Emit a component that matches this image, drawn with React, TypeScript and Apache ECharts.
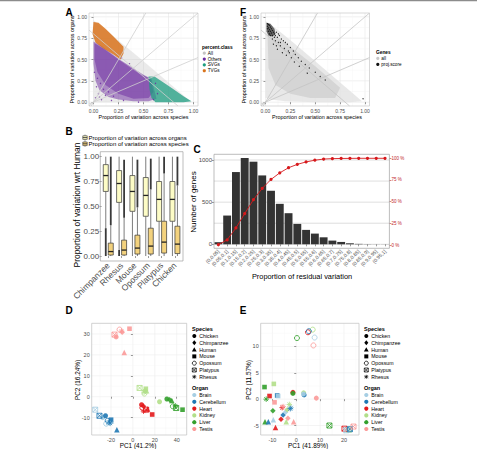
import React, { useEffect, useRef } from "react";
import * as echarts from "echarts";

const FONT = "'Liberation Sans', Arial, Helvetica, sans-serif";

// ---------------- Panel A : variance partition clouds ----------------
const classNames = ["All", "Others", "SVGs", "TVGs"];
const classColors = ["#c4c4c4", "#6b2aa0", "#1e9e80", "#d9731c"];
const cloudAll = [[0.0, 0.96], [0.2, 0.77], [0.45, 0.53], [0.7, 0.28], [0.98, 0.0], [0.0, 0.0]];
const cloudOthersOuter = [[0.0, 0.71], [0.08, 0.66], [0.18, 0.57], [0.26, 0.5], [0.34, 0.44], [0.42, 0.38], [0.5, 0.32], [0.58, 0.27], [0.6, 0.18], [0.63, 0.04], [0.55, 0.01], [0.4, 0.01], [0.25, 0.03], [0.15, 0.06], [0.06, 0.14], [0.02, 0.25], [0.0, 0.45]];
const cloudOthersInner = [[0.01, 0.69], [0.1, 0.63], [0.25, 0.5], [0.45, 0.34], [0.57, 0.27], [0.6, 0.12], [0.55, 0.05], [0.4, 0.04], [0.25, 0.1], [0.12, 0.2], [0.04, 0.35], [0.01, 0.5]];
const othersSparse = [[0.02, 0.05], [0.05, 0.1], [0.03, 0.18], [0.08, 0.03], [0.12, 0.08], [0.1, 0.15], [0.04, 0.28], [0.18, 0.02], [0.07, 0.22], [0.15, 0.12], [0.2, 0.07], [0.01, 0.35], [0.3, 0.02], [0.45, 0.0], [0.6, 0.03], [0.64, 0.1], [0.62, 0.22], [0.28, 0.52], [0.36, 0.45], [0.06, 0.06]];
const cloudSVGs = [[0.55, 0.3], [0.61, 0.3], [0.7, 0.23], [0.8, 0.15], [0.9, 0.07], [0.98, 0.01], [0.9, 0.0], [0.75, 0.0], [0.62, 0.0], [0.58, 0.05], [0.56, 0.15]];
const cloudTVGs = [[0.0, 0.94], [0.05, 0.93], [0.12, 0.86], [0.2, 0.77], [0.3, 0.65], [0.3, 0.57], [0.27, 0.5], [0.2, 0.56], [0.1, 0.63], [0.02, 0.7], [-0.01, 0.8]];
const propTicks = [0, 0.25, 0.5, 0.75, 1];
const propMinor = [0.125, 0.375, 0.625, 0.875];
const refLines = [
  [[-0.0225, -0.045], [0.5225, 1.045]],
  [[-0.045, -0.045], [1.045, 1.045]],
  [[-0.045, -0.0225], [1.045, 0.5225]],
  [[-0.045, 0.845], [0.845, -0.045]],
];

// ---------------- Panel F : proj.score genes ----------------
const geneNames = ["all", "proj.score"];
const geneColors = ["#c8c8c8", "#111111"];
const cloudFOuter = [[0.0, 0.95], [0.1, 0.87], [0.3, 0.68], [0.55, 0.43], [0.8, 0.18], [0.97, 0.01], [0.85, 0.0], [0.5, 0.0], [0.2, 0.01], [0.05, 0.03], [0.0, 0.05]];
const cloudFInner = [[0.02, 0.85], [0.25, 0.65], [0.5, 0.42], [0.75, 0.17], [0.7, 0.05], [0.45, 0.05], [0.25, 0.1], [0.1, 0.2], [0.03, 0.4]];
const projCore = [[0.01, 0.93], [0.05, 0.92], [0.09, 0.86], [0.1, 0.8], [0.07, 0.77], [0.03, 0.78], [0.01, 0.83]];
const projPoints = [
  [0.02, 0.92], [0.03, 0.91], [0.04, 0.9], [0.02, 0.89], [0.05, 0.88], [0.03, 0.87], [0.06, 0.86], [0.04, 0.85],
  [0.02, 0.86], [0.07, 0.84], [0.05, 0.83], [0.03, 0.83], [0.08, 0.82], [0.06, 0.81], [0.04, 0.8], [0.09, 0.8],
  [0.07, 0.78], [0.05, 0.78], [0.1, 0.78], [0.11, 0.82], [0.12, 0.76], [0.14, 0.78], [0.1, 0.72], [0.16, 0.74],
  [0.13, 0.7], [0.18, 0.72], [0.08, 0.68], [0.2, 0.7], [0.15, 0.66], [0.22, 0.68], [0.12, 0.62], [0.19, 0.63],
  [0.25, 0.64], [0.17, 0.58], [0.23, 0.6], [0.28, 0.6], [0.21, 0.55], [0.3, 0.56], [0.26, 0.52], [0.33, 0.52],
  [0.29, 0.47], [0.36, 0.48], [0.4, 0.44], [0.34, 0.42], [0.44, 0.4], [0.5, 0.35], [0.42, 0.34], [0.55, 0.3],
  [0.6, 0.26], [0.98, 0.04], [0.07, 0.74], [0.11, 0.66], [0.13, 0.8], [0.09, 0.76], [0.15, 0.7], [0.24, 0.58],
];

// ---------------- Panel B : boxplots ----------------
const speciesB = ["Chimpanzee", "Rhesus", "Mouse", "Opossum", "Platypus", "Chicken"];
const boxNames = ["Proportion of variation across organs", "Proportion of variation across species"];
const boxColors = ["#fdfcc6", "#f3d27e"];
// [lowWhisker, q1, median, q3, highWhisker]
const organStats = [
  [0.28, 0.65, 0.81, 0.92, 1.0],
  [0.06, 0.54, 0.73, 0.86, 1.0],
  [0.0, 0.45, 0.65, 0.81, 1.0],
  [0.0, 0.4, 0.61, 0.79, 1.0],
  [0.0, 0.35, 0.57, 0.75, 1.0],
  [0.0, 0.35, 0.57, 0.75, 1.0],
];
const organOutliers = [[0.0, 0.28], [0.0, 0.06], [0, 0], [0, 0], [0, 0], [0, 0]];
const speciesStats = [
  [0.0, 0.01, 0.045, 0.13, 0.31],
  [0.0, 0.01, 0.06, 0.16, 0.385],
  [0.0, 0.02, 0.08, 0.21, 0.49],
  [0.0, 0.02, 0.1, 0.28, 0.67],
  [0.0, 0.03, 0.14, 0.35, 0.83],
  [0.0, 0.025, 0.12, 0.3, 0.71],
];
const speciesOutliers = [[0.31, 1.0], [0.385, 0.97], [0.49, 0.97], [0.67, 0.98], [0.83, 1.0], [0.71, 1.0]];

// ---------------- Panel C : residual variation histogram ----------------
const binLabels = ["(0,0.05]", "(0.05,0.1]", "(0.1,0.15]", "(0.15,0.2]", "(0.2,0.25]", "(0.25,0.3]", "(0.3,0.35]", "(0.35,0.4]", "(0.4,0.45]", "(0.45,0.5]", "(0.5,0.55]", "(0.55,0.6]", "(0.6,0.65]", "(0.65,0.7]", "(0.7,0.75]", "(0.75,0.8]", "(0.8,0.85]", "(0.85,0.9]", "(0.9,0.95]", "(0.95,1]"];
const geneCounts = [25, 341, 857, 1024, 980, 817, 635, 480, 369, 242, 171, 127, 83, 44, 28, 12, 5, 2, 1, 1];
const cumPercent = [0.4, 5.9, 19.7, 36.2, 52.3, 65.3, 75.6, 83.2, 89.1, 93.0, 95.8, 97.8, 99.1, 99.6, 99.8, 99.9, 100, 100, 100, 100];
const countTicks = [0, 500, 1000];
const countGrid = [0, 250, 500, 750, 1000];
const pctTicks = [0, 25, 50, 75, 100];

// ---------------- Panels D & E : PCA ----------------
const organs = ["Brain", "Cerebellum", "Heart", "Kidney", "Liver", "Testis"];
const organColors = ["#a6cee3", "#1f78b4", "#e31a1c", "#b2df8a", "#33a02c", "#fb9a99"];
const speciesPCA = ["Chicken", "Chimpanzee", "Human", "Mouse", "Opossum", "Platypus", "Rhesus"];
// [organIndex, speciesIndex, PC1, PC2]
const pcaD = [
  [5, 0, -15.3, 28.6], [5, 1, -9.8, 30.8], [5, 2, -7.9, 21.2], [5, 3, -3.1, 32.5], [5, 4, -12.2, 32.1], [5, 5, -16.8, 29.7], [5, 6, -10.4, 31.4],
  [3, 0, 24.3, -2.4], [3, 1, 11.0, 3.0], [3, 2, 12.5, 2.8], [3, 3, 11.8, 3.8], [3, 4, 10.5, 1.5], [3, 5, 6.1, 4.2], [3, 6, 10.2, 2.2],
  [4, 0, 31.0, -1.1], [4, 1, 33.5, -1.5], [4, 2, 35.5, -1.8], [4, 3, 45.3, -6.2], [4, 4, 36.5, -4.6], [4, 5, 39.5, -5.4], [4, 6, 38.8, -4.4],
  [2, 0, 7.9, -3.8], [2, 1, 9.7, -4.6], [2, 2, 13.4, -5.9], [2, 3, 17.6, -8.5], [2, 4, 8.6, -5.3], [2, 5, 12.1, -6.2], [2, 6, 9.7, -6.9],
  [0, 0, -27.5, -10.0], [0, 1, -21.0, -12.2], [0, 2, -19.5, -11.5], [0, 3, -22.5, -12.5], [0, 4, -24.4, -12.9], [0, 5, -34.4, -6.2], [0, 6, -20.5, -12.8],
  [1, 0, -25.0, -9.1], [1, 1, -21.4, -11.8], [1, 2, -14.6, -15.8], [1, 3, -19.9, -11.0], [1, 4, -23.0, -11.5], [1, 5, -30.5, -9.1], [1, 6, -21.0, -12.5],
];
const pcaE = [
  [2, 4, 4.9, 12.7], [3, 4, 6.9, 13.2], [0, 4, 7.7, 11.7], [5, 4, 7.2, 10.2], [4, 4, 0.3, 11.6], [1, 4, 5.3, 12.9],
  [5, 0, 8.4, 0.2], [2, 0, -1.4, 1.3], [4, 0, -1.4, 1.1], [3, 0, 3.1, 1.2], [1, 0, 3.3, 0.8], [0, 0, 3.0, 1.0],
  [4, 3, -13.3, 2.3], [3, 3, -9.4, 2.9], [2, 3, -11.2, 0.6], [1, 3, -8.0, 0.7], [0, 3, -7.6, 0.6], [5, 3, -9.1, -0.6],
  [4, 2, -13.1, -4.3], [1, 2, -11.7, -4.3], [0, 2, -9.6, -3.9], [2, 2, -8.7, -5.4], [3, 2, -4.2, -4.3], [5, 2, -1.1, -4.3],
  [4, 1, -9.8, -2.2], [2, 1, -6.4, -3.8], [1, 1, -5.5, -3.0], [0, 1, -4.5, -2.5], [3, 1, -3.8, -2.0], [5, 1, -3.5, -3.6],
  [4, 5, 13.9, -5.0], [3, 5, 22.0, -5.8], [2, 5, 20.2, -5.6], [0, 5, 21.0, -5.9], [1, 5, 22.5, -5.7], [5, 5, 24.0, -5.2],
  [4, 6, -12.6, 0.0], [0, 6, -2.1, -1.6], [3, 6, -2.9, -1.0], [2, 6, -5.9, -1.6], [1, 6, -2.5, -1.8], [5, 6, -5.5, -1.4],
];
const dTicksX = [-20, 0, 20, 40];
const dTicksY = [-10, 0, 10, 20, 30];
const eTicksX = [-10, 0, 10, 20];
const eTicksY = [-5, 0, 5, 10];

// ---------------- layout ----------------
const G = {
  A: { left: 89, top: 13, width: 109, height: 93 },
  F: { left: 261, top: 13, width: 108.5, height: 93 },
  B: { left: 101.6, top: 151.7, width: 80, height: 109.3 },
  C: { left: 214, top: 154.3, width: 175.4, height: 94 },
  D: { left: 91.7, top: 323.3, width: 95, height: 111.7 },
  E: { left: 260.7, top: 323.3, width: 98.3, height: 111.7 },
};

const speciesKinds = ["circle", "diamond", "triangle", "rect", "emptyCircle", "platypus", "asterisk"];
const PLATYPUS = "path://M0,0L10,0L10,10L0,10Z M0,0L10,10 M10,0L0,10";
const ASTERISK = "path://M5,0L5,10 M0,5L10,5 M1.5,1.5L8.5,8.5 M8.5,1.5L1.5,8.5";
const kindSymbol: Record<string, string> = { circle: "circle", diamond: "diamond", triangle: "triangle", rect: "rect", emptyCircle: "circle", platypus: PLATYPUS, asterisk: ASTERISK };
const kindSize: Record<string, number> = { circle: 5, diamond: 5.5, triangle: 5.5, rect: 4.6, emptyCircle: 5, platypus: 5, asterisk: 5.5 };
const hollow = (k: string) => k === "emptyCircle" || k === "platypus" || k === "asterisk";

function txt(text: string, x: number, y: number, size: number, o: any = {}) {
  return {
    type: "text", x, y, rotation: o.rot || 0, silent: true, z: 100,
    style: {
      text, fontSize: size, fontFamily: FONT, fill: o.color || "#000", fontWeight: o.bold ? "bold" : "normal",
      align: o.align || "center", verticalAlign: o.va || "middle", textAlign: o.align || "center", textVerticalAlign: o.va || "middle",
    },
  };
}

function mark(kind: string, x: number, y: number, color: string, s = 2.2): any {
  switch (kind) {
    case "circle": return { type: "circle", shape: { cx: x, cy: y, r: s }, style: { fill: color } };
    case "emptyCircle": return { type: "circle", shape: { cx: x, cy: y, r: s }, style: { fill: "none", stroke: color, lineWidth: 0.8 } };
    case "triangle": return { type: "polygon", shape: { points: [[x, y - s * 1.2], [x + s * 1.2, y + s * 0.9], [x - s * 1.2, y + s * 0.9]] }, style: { fill: color } };
    case "rect": return { type: "rect", shape: { x: x - s, y: y - s, width: 2 * s, height: 2 * s }, style: { fill: color } };
    case "diamond": return { type: "polygon", shape: { points: [[x, y - s * 1.25], [x + s, y], [x, y + s * 1.25], [x - s, y]] }, style: { fill: color } };
    case "platypus": return {
      type: "group", children: [
        { type: "rect", shape: { x: x - s, y: y - s, width: 2 * s, height: 2 * s }, style: { fill: "none", stroke: color, lineWidth: 0.7 } },
        { type: "line", shape: { x1: x - s, y1: y - s, x2: x + s, y2: y + s }, style: { stroke: color, lineWidth: 0.7 } },
        { type: "line", shape: { x1: x + s, y1: y - s, x2: x - s, y2: y + s }, style: { stroke: color, lineWidth: 0.7 } },
      ],
    };
    case "asterisk": {
      const d = s * 0.75;
      return {
        type: "group", children: [
          { type: "line", shape: { x1: x, y1: y - s, x2: x, y2: y + s }, style: { stroke: color, lineWidth: 0.7 } },
          { type: "line", shape: { x1: x - s, y1: y, x2: x + s, y2: y }, style: { stroke: color, lineWidth: 0.7 } },
          { type: "line", shape: { x1: x - d, y1: y - d, x2: x + d, y2: y + d }, style: { stroke: color, lineWidth: 0.7 } },
          { type: "line", shape: { x1: x + d, y1: y - d, x2: x - d, y2: y + d }, style: { stroke: color, lineWidth: 0.7 } },
        ],
      };
    }
  }
  return { type: "group", children: [] };
}

function frame(r: any, color = "#b0b0b0") {
  return { type: "rect", silent: true, z: 50, shape: { x: r.left, y: r.top, width: r.width, height: r.height }, style: { fill: "none", stroke: color, lineWidth: 0.7 } };
}

function valAxis(gi: number, min: number, max: number, ticks: number[], size: number, fmt: (v: number) => string, extra: any = {}) {
  return {
    type: "value", gridIndex: gi, min, max, splitLine: { show: false },
    axisLine: { show: false },
    axisTick: { show: true, customValues: ticks, length: 2, lineStyle: { color: extra.tickColor || "#555", width: 0.6 } },
    axisLabel: { customValues: ticks, fontSize: size, color: extra.labelColor || "#4d4d4d", margin: extra.margin ?? 2, fontFamily: FONT, formatter: fmt },
    ...(extra.position ? { position: extra.position } : {}),
  };
}

function polygonSeries(xi: number, yi: number, pts: number[][], fill: string, opacity: number, z = 1) {
  return {
    type: "custom", xAxisIndex: xi, yAxisIndex: yi, data: [[0, 0]], silent: true, z, clip: true,
    renderItem: (_p: any, api: any) => ({ type: "polygon", shape: { points: pts.map((p) => api.coord(p)) }, style: { fill, opacity } }),
  };
}

function gridSeries(xi: number, yi: number, xs: number[], ys: number[], color: string, width: number) {
  const data = [...xs.map((v) => [v, 0, 0]), ...ys.map((v) => [0, v, 1])];
  return {
    type: "custom", xAxisIndex: xi, yAxisIndex: yi, data, silent: true, z: 0,
    renderItem: (params: any, api: any) => {
      const cs = params.coordSys;
      if (api.value(2) === 0) {
        const x = api.coord([api.value(0), 0])[0];
        return { type: "line", shape: { x1: x, y1: cs.y, x2: x, y2: cs.y + cs.height }, style: { stroke: color, lineWidth: width } };
      }
      const y = api.coord([0, api.value(1)])[1];
      return { type: "line", shape: { x1: cs.x, y1: y, x2: cs.x + cs.width, y2: y }, style: { stroke: color, lineWidth: width } };
    },
  };
}

function boxSeries(stats: number[][], outliers: number[][], fill: string, offset: number) {
  const data = stats.map((s, i) => [i, ...s, ...outliers[i]]);
  return {
    type: "custom", xAxisIndex: 2, yAxisIndex: 2, data, silent: true, z: 5,
    encode: { x: 0, y: [1, 2, 3, 4, 5] },
    renderItem: (_p: any, api: any) => {
      const cat = api.value(0);
      const y = (v: number) => api.coord([cat, v])[1];
      const cx = api.coord([cat, 0])[0] + offset;
      const [lo, q1, med, q3, hi, oLo, oHi] = [1, 2, 3, 4, 5, 6, 7].map((k) => api.value(k));
      const hw = 2.5;
      const children: any[] = [
        { type: "line", shape: { x1: cx, y1: y(q3), x2: cx, y2: y(hi) }, style: { stroke: "#444", lineWidth: 0.7 } },
        { type: "line", shape: { x1: cx, y1: y(q1), x2: cx, y2: y(lo) }, style: { stroke: "#444", lineWidth: 0.7 } },
      ];
      if (oHi > oLo) children.push({ type: "line", shape: { x1: cx, y1: y(oLo), x2: cx, y2: y(oHi) }, style: { stroke: "#3a3a3a", lineWidth: 1.8 } });
      children.push({ type: "rect", shape: { x: cx - hw, y: y(q3), width: 2 * hw, height: y(q1) - y(q3) }, style: { fill, stroke: "#333", lineWidth: 0.7 } });
      children.push({ type: "line", shape: { x1: cx - hw, y1: y(med), x2: cx + hw, y2: y(med) }, style: { stroke: "#222", lineWidth: 1.3 } });
      return { type: "group", children };
    },
  };
}

function pcaSeries(rows: number[][], xi: number, yi: number) {
  return speciesPCA.map((name, s) => {
    const k = speciesKinds[s];
    return {
      type: "scatter", name, xAxisIndex: xi, yAxisIndex: yi, symbol: kindSymbol[k], symbolSize: kindSize[k], z: 6, silent: true,
      data: rows.filter((r) => r[1] === s).map((r) => ({
        value: [r[2], r[3]],
        itemStyle: hollow(k)
          ? { color: "rgba(0,0,0,0)", borderColor: organColors[r[0]], borderWidth: 0.9, opacity: 0.95 }
          : { color: organColors[r[0]], opacity: 0.9 },
      })),
    };
  });
}

function pcaLegend(x0: number) {
  const els: any[] = [txt("Species", x0, 329, 5.5, { bold: true, align: "left" })];
  speciesPCA.forEach((n, i) => {
    const y = 336 + i * 6.8;
    els.push(mark(speciesKinds[i], x0 + 2.3, y, "#000", 2));
    els.push(txt(n, x0 + 7.3, y, 5.2, { align: "left" }));
  });
  els.push(txt("Organ", x0, 388.3, 5.5, { bold: true, align: "left" }));
  organs.forEach((n, i) => {
    const y = 395 + i * 6.8;
    els.push(mark("circle", x0 + 2.3, y, organColors[i], 2.1));
    els.push(txt(n, x0 + 7.3, y, 5.2, { align: "left" }));
  });
  return els;
}

function boxLegendIcon(x: number, y: number, fill: string) {
  return {
    type: "group", children: [
      { type: "line", shape: { x1: x, y1: y - 3, x2: x, y2: y + 3 }, style: { stroke: "#444", lineWidth: 0.6 } },
      { type: "rect", shape: { x: x - 2.2, y: y - 1.8, width: 4.4, height: 3.6 }, style: { fill, stroke: "#333", lineWidth: 0.6 } },
      { type: "line", shape: { x1: x - 2.2, y1: y, x2: x + 2.2, y2: y }, style: { stroke: "#222", lineWidth: 0.8 } },
    ],
  };
}

function buildOption(): any {
  const f2 = (v: number) => v.toFixed(2);
  const fi = (v: number) => String(v);
  const propAxis = (gi: number) => valAxis(gi, -0.045, 1.045, propTicks, 5, f2);

  const xAxis = [
    propAxis(0),
    propAxis(1),
    {
      type: "category", gridIndex: 2, data: speciesB, boundaryGap: true,
      axisLine: { show: false },
      axisTick: { show: true, alignWithLabel: true, length: 2, lineStyle: { color: "#555", width: 0.6 } },
      axisLabel: { rotate: 45, interval: 0, fontSize: 8.5, color: "#4d4d4d", margin: 3, fontFamily: FONT },
    },
    {
      type: "category", gridIndex: 3, data: binLabels, boundaryGap: true,
      axisLine: { show: false },
      axisTick: { show: true, alignWithLabel: true, length: 2, lineStyle: { color: "#555", width: 0.6 } },
      axisLabel: { rotate: 45, interval: 0, fontSize: 5, color: "#4d4d4d", margin: 2, fontFamily: FONT },
    },
    valAxis(4, -37.6, 49.1, dTicksX, 5.5, fi),
    valAxis(5, -14.9, 26.3, eTicksX, 5.5, fi),
  ];
  const yAxis = [
    propAxis(0),
    propAxis(1),
    valAxis(2, -0.05, 1.05, propTicks, 8, f2, { margin: 2.5 }),
    valAxis(3, -47.4, 1067.6, countTicks, 6, fi),
    valAxis(4, -18.3, 35.1, dTicksY, 5.5, fi),
    valAxis(5, -6.8, 14.4, eTicksY, 5.5, fi),
    valAxis(3, -3.8, 104.6, pctTicks, 4.5, (v: number) => `${v} %`, { position: "right", labelColor: "#c0282d", tickColor: "#c0282d" }),
  ];

  const series: any[] = [
    // ---- A
    gridSeries(0, 0, propTicks, propTicks, "#e6e6e6", 0.6),
    gridSeries(0, 0, propMinor, propMinor, "#f3f3f3", 0.4),
    polygonSeries(0, 0, cloudAll, classColors[0], 0.35, 1),
    polygonSeries(0, 0, cloudOthersOuter, classColors[1], 0.5, 2),
    polygonSeries(0, 0, cloudOthersInner, classColors[1], 0.5, 2),
    { type: "scatter", xAxisIndex: 0, yAxisIndex: 0, data: othersSparse, symbolSize: 1.4, silent: true, z: 2, itemStyle: { color: classColors[1], opacity: 0.8 } },
    polygonSeries(0, 0, cloudSVGs, classColors[2], 0.75, 2),
    polygonSeries(0, 0, cloudTVGs, classColors[3], 0.85, 2),
    ...refLines.map((l) => ({ type: "line", xAxisIndex: 0, yAxisIndex: 0, data: l, symbol: "none", silent: true, z: 3, lineStyle: { color: "#cfcfcf", width: 0.8 } })),
    // ---- F
    gridSeries(1, 1, propTicks, propTicks, "#e6e6e6", 0.6),
    gridSeries(1, 1, propMinor, propMinor, "#f3f3f3", 0.4),
    polygonSeries(1, 1, cloudFOuter, "#e2e2e2", 0.8, 1),
    polygonSeries(1, 1, cloudFInner, "#cdcdcd", 0.7, 1),
    ...refLines.map((l) => ({ type: "line", xAxisIndex: 1, yAxisIndex: 1, data: l, symbol: "none", silent: true, z: 3, lineStyle: { color: "#c4c4c4", width: 0.8 } })),
    polygonSeries(1, 1, projCore, geneColors[1], 0.6, 4),
    { type: "scatter", xAxisIndex: 1, yAxisIndex: 1, data: projPoints, symbolSize: 1.3, silent: true, z: 4, itemStyle: { color: geneColors[1], opacity: 0.85 } },
    // ---- B
    boxSeries(organStats, organOutliers, boxColors[0], -2.5),
    boxSeries(speciesStats, speciesOutliers, boxColors[1], 2.5),
    // ---- C
    gridSeries(3, 3, [], countGrid, "#d0d0d0", 0.7),
    { type: "bar", xAxisIndex: 3, yAxisIndex: 3, data: geneCounts, barCategoryGap: "10%", silent: true, z: 3, itemStyle: { color: "#333333" } },
    { type: "line", xAxisIndex: 3, yAxisIndex: 6, data: cumPercent, symbol: "circle", symbolSize: 3.2, silent: true, z: 4, lineStyle: { color: "#d7191c", width: 0.9 }, itemStyle: { color: "#d7191c" } },
    // ---- D
    gridSeries(4, 4, dTicksX, dTicksY, "#ececec", 0.6),
    gridSeries(4, 4, [-30, -10, 10, 30], [-15, -5, 5, 15, 25, 35], "#f5f5f5", 0.4),
    ...pcaSeries(pcaD, 4, 4),
    // ---- E
    gridSeries(5, 5, eTicksX, eTicksY, "#ececec", 0.6),
    gridSeries(5, 5, [-15, -5, 5, 15, 25], [-2.5, 2.5, 7.5, 12.5], "#f5f5f5", 0.4),
    ...pcaSeries(pcaE, 5, 5),
  ];

  const graphic: any[] = [
    { type: "rect", shape: { x: 0, y: 0, width: 477, height: 1.3 }, style: { fill: "#8c8c8c" }, silent: true },
    frame(G.A, "#c8c8c8"), frame(G.F, "#c8c8c8"),
    frame({ left: 100.3, top: 151.7, width: 82.7, height: 109.3 }, "#a0a0a0"),
    frame(G.C, "#a0a0a0"), frame(G.D, "#c0c0c0"), frame(G.E, "#c0c0c0"),
    txt("A", 69, 12, 10, { bold: true }), txt("F", 243, 12, 10, { bold: true }),
    txt("B", 69, 131, 10, { bold: true }), txt("C", 197, 149.3, 10, { bold: true }),
    txt("D", 69, 310, 10, { bold: true }), txt("E", 243, 310, 10, { bold: true }),
    txt("Proportion of variation across species", 143.5, 117.3, 5.4),
    txt("Proportion of variation across organs", 72, 59.5, 5.4, { rot: Math.PI / 2 }),
    txt("Proportion of variation across species", 317, 117.3, 5.4),
    txt("Proportion of variation across organs", 244.2, 59.5, 5.4, { rot: Math.PI / 2 }),
    txt("Proportion of variation wrt Human", 77, 205, 8.4, { rot: Math.PI / 2 }),
    txt("Number of genes", 193, 202, 8, { rot: Math.PI / 2 }),
    txt("Proportion of residual variation", 302, 276.7, 7.4),
    txt("PC1 (41.2%)", 138, 445, 6.4),
    txt("PC2 (16.24%)", 77, 380, 6.4, { rot: Math.PI / 2 }),
    txt("PC1 (41.89%)", 308, 445, 6.4),
    txt("PC2 (11.57%)", 248.3, 380, 6.4, { rot: Math.PI / 2 }),
    txt("percent.class", 202, 47.7, 4.8, { bold: true, align: "left" }),
    ...classNames.flatMap((n, i) => [mark("circle", 204.3, 53.2 + i * 5.85, classColors[i], 1.6), txt(n, 207.8, 53.2 + i * 5.85, 4.6, { align: "left" })]),
    txt("Genes", 376, 52.4, 4.8, { bold: true, align: "left" }),
    ...geneNames.flatMap((n, i) => [mark("circle", 377.8, 58.4 + i * 6, geneColors[i], 1.6), txt(n, 381.3, 58.4 + i * 6, 4.6, { align: "left" })]),
    ...boxNames.flatMap((n, i) => [boxLegendIcon(85, 137.6 + i * 6.2, boxColors[i]), txt(n, 88.6, 137.6 + i * 6.2, 6, { align: "left" })]),
    ...pcaLegend(192),
    ...pcaLegend(364),
  ];

  return {
    animation: false,
    backgroundColor: "#ffffff",
    textStyle: { fontFamily: FONT },
    grid: [G.A, G.F, G.B, G.C, G.D, G.E].map((g) => ({ ...g, containLabel: false })),
    xAxis, yAxis, series, graphic,
  };
}

export default function App() {
  const ref = useRef<HTMLDivElement>(null);
  useEffect(() => {
    const chart = echarts.init(ref.current!, null, { renderer: "svg" });
    chart.setOption(buildOption());
    return () => chart.dispose();
  }, []);
  return <div ref={ref} style={{ position: "absolute", left: 0, top: 0, width: 477, height: 449, background: "#fff" }} />;
}
